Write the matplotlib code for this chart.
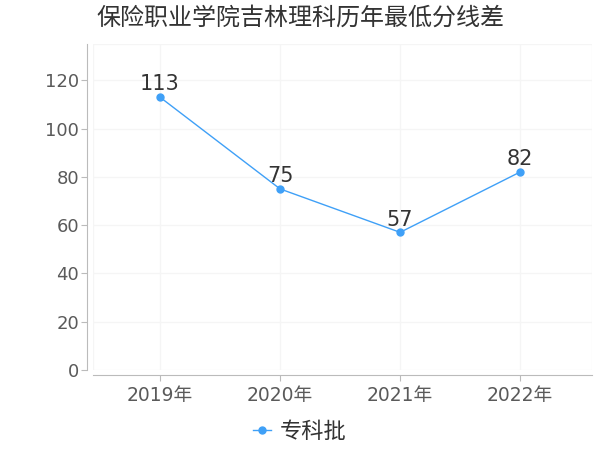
import matplotlib
matplotlib.use("Agg")
import matplotlib.pyplot as plt

plt.rcParams['font.family'] = ['DejaVu Sans', 'Noto Sans CJK SC']

title = "保险职业学院吉林理科历年最低分线差"
categories = ["2019年", "2020年", "2021年", "2022年"]
series_name = "专科批"
values = [113, 75, 57, 82]
yticks = [0, 20, 40, 60, 80, 100, 120]

line_color = "#3fa0f7"
grid_color = "#f5f5f5"

fig = plt.figure(figsize=(6, 4.5), dpi=100)
ax = fig.add_axes([0.155, 0.178, 0.832, 0.724])

x = list(range(len(categories)))
ax.plot(x, values, color=line_color, lw=1.0, marker='o', markersize=5,
        label=series_name, zorder=3)
for xi, v in zip(x, values):
    ax.annotate(str(v), (xi, v), xytext=(0, 2), textcoords='offset points',
                ha='center', va='bottom', fontsize=15, color='#333333')

xmin, xmax = -0.558, 3.6
ymin, ymax = 0, 135
ax.set_xlim(xmin, xmax)
ax.set_ylim(ymin, ymax)
ax.set_xticks(x)
ax.set_xticklabels(categories)
ax.set_yticks(yticks)

ax.grid(True, color=grid_color, lw=1)
ax.set_axisbelow(True)
ax.axhline(ymax, color=grid_color, lw=1, zorder=0)
ax.axvline(xmin, color=grid_color, lw=1, zorder=0)
ax.axvline(xmax, color=grid_color, lw=1, zorder=0)

for s in ['top', 'right']:
    ax.spines[s].set_visible(False)
for s in ['left', 'bottom']:
    ax.spines[s].set_color('#bbbbbb')
    ax.spines[s].set_position(('outward', 4))
ax.tick_params(axis='x', colors='#bbbbbb', labelcolor='#5a5a5a',
               labelsize=13.5, length=4)
ax.tick_params(axis='y', colors='#bbbbbb', labelcolor='#5a5a5a',
               labelsize=13, length=4, pad=2)

fig.text(0.5, 0.96, title, ha='center', va='center', fontsize=17.3,
         color='#333333')

leg = fig.legend(loc='center', bbox_to_anchor=(0.5, 0.04), frameon=False,
                 fontsize=16, handlelength=0.8, handletextpad=0.4,
                 labelcolor='#333333')

fig.savefig("out.png", dpi=100, facecolor='white')
